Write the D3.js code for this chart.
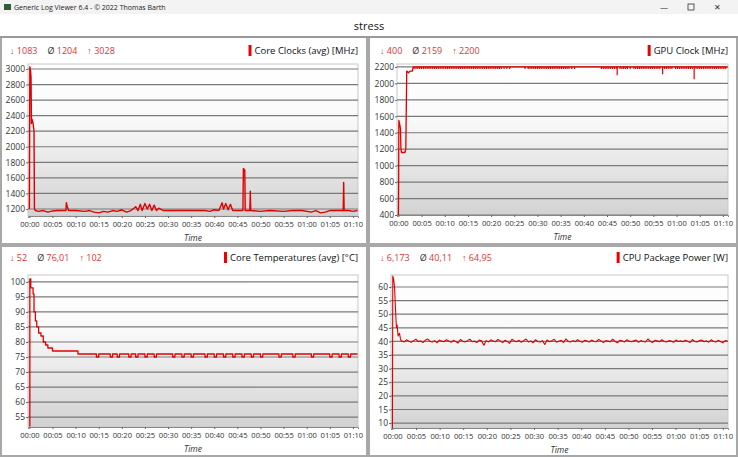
<!DOCTYPE html>
<html><head><meta charset="utf-8">
<script src="https://cdn.jsdelivr.net/npm/d3@7"></script>
<style>body{margin:0;background:#fff}svg{display:block;font-family:"Open Sans",sans-serif}</style>
</head><body><div id="chart"></div>
<script>
// time in minutes
const clockPts = [[0,1200],[0.1,3028],[0.25,2980],[0.35,2900],[0.45,2300],[0.6,2350],[0.8,2300],[1.0,2200],[1.1,1200],[1.3,1180],
  [2,1170],[3,1180],[4,1160],[5,1175],[6,1180],[7,1180],[7.9,1180],[8,1280],[8.2,1230],[8.5,1180],[10,1180],[12,1170],[13,1180],[14,1160],
  [15,1150],[16,1170],[17,1160],[18,1180],[19,1170],[20,1190],[21,1160],[22,1180],[23,1230],[23.5,1180],[24,1260],[24.4,1180],[25,1270],
  [25.5,1200],[26,1260],[26.5,1180],[27,1250],[27.5,1180],[28,1210],[29,1180],[30,1180],[35,1180],[38,1180],[39,1170],[40,1190],[41,1180],
  [41.7,1280],[42,1200],[42.5,1270],[43,1190],[43.5,1260],[44,1180],[45,1180],[46.2,1180],[46.3,1720],[46.6,1700],[46.7,1180],[47.7,1180],
  [47.8,1430],[47.9,1180],[50,1170],[52,1180],[55,1170],[57,1180],[59,1180],[61,1160],[62,1180],[63,1150],[64,1160],[65,1180],[67.9,1180],
  [68,1540],[68.1,1180],[69,1180],[70,1170],[71,1180]];
const gpuPts = [[0,400],[0.05,700],[0.1,1550],[0.3,1500],[0.45,1450],[0.55,1200],[0.7,1160],[1.4,1160],[1.6,1200],[1.8,2150],[2.2,2130],
  [2.5,2150],[3.0,2150],[3.2,2200],[71,2200]];
const gpuDipTimes = [3.4,3.8,4.2,4.6,5.0,5.4,5.8,6.2,6.6,7.0,7.4,7.8,8.2,8.6,9.0,9.4,9.8,10.2,10.6,11.0,11.4,11.8,12.2,12.6,13.0,13.4,
  13.8,14.2,14.6,15.0,15.4,15.8,16.2,16.6,17.0,17.4,17.8,18.2,18.6,19.0,19.4,19.8,20.2,20.6,21.0,21.4,21.8,22.2,22.8,23.4,24.0,
  27.3,28.0,28.4,28.8,29.2,29.6,30.0,30.4,30.8,31.2,31.6,32.0,32.4,32.8,33.2,33.6,34.0,34.4,34.8,35.2,35.6,36.0,36.4,36.8,37.4,38.0,
  43.8,44.2,44.6,45.0,45.4,45.8,46.2,46.6,47.0,47.8,48.2,48.6,49.0,49.4,50.0,50.8,51.2,51.6,52.0,52.4,52.8,53.2,53.6,54.0,54.4,
  54.8,55.2,55.6,56.0,56.4,57.4,57.8,58.2,58.6,59.0,59.8,60.2,60.6,61.0,61.4,61.8,62.2,62.6,63.0,63.4,64.2,64.6,65.0,65.4,65.8,
  66.2,66.6,67.0,67.4,67.8,68.2,68.6,69.0,69.4,69.8,70.2,70.6];
const gpuDeepDips = [[47.2,2100],[57.0,2110],[63.8,2050]];
const tempPts = [[0,52],[0.1,101],[0.3,98],[0.6,98],[0.8,96],[1,90],[1.3,87],[1.6,85],[2,83],[2.5,82],[3,80],[3.5,79],[4,78],[5,77],
  [10,77],[10.5,76],[14,76],[14.5,75],[15,76],[17,76],[17.5,75],[18,76],[19,75],[19.5,76],[21,76],[21.5,75],[22,76],[23,75],[23.5,76],
  [25,75],[25.5,76],[27,75],[27.5,76],[30,76],[31,75],[31.5,76],[33,75],[33.5,76],[35,75],[35.5,76],[37,76],[38,75],[38.5,76],[40,75],
  [40.5,76],[42,75],[42.5,76],[44,75],[44.5,76],[46,75],[46.5,76],[48,75],[48.5,76],[50,75],[50.5,76],[53,76],[54,75],[54.5,76],
  [57,75],[57.5,76],[60,76],[61,75],[61.5,76],[64,76],[65,75],[65.5,76],[67,75],[67.5,76],[69,75],[69.5,76],[71,76]];
const powerHead = [[0,8],[0.08,64],[0.25,63],[0.45,60],[0.65,52],[0.85,45],[1.0,46],[1.2,42],[1.5,43],[1.7,41],[1.9,40]];
const powerTail = [40.2,39.8,40.6,40.1,39.7,40.3,40.8,39.9,40.2,39.6,40.4,40.9,40.0,39.8,40.3,39.5,40.5,40.1,39.9,40.6,
  40.2,39.7,40.4,40.0,39.4,40.7,40.1,39.8,40.3,40.8,39.9,40.1,39.6,40.5,40.2,38.6,40.3,39.8,40.6,40.1,
  39.9,40.7,40.2,39.6,40.4,40.0,39.3,40.8,40.1,39.9,40.4,39.7,40.3,40.9,39.8,40.2,39.5,40.6,40.0,39.8,
  40.3,38.9,40.5,39.9,40.2,40.8,39.7,40.1,40.4,39.6,40.9,40.0,39.8,40.3,39.9,40.6,40.1,39.7,40.4,40.2,
  39.8,40.5,40.0,39.9,40.7,40.2,39.6,40.3,40.1,39.9,40.8,40.0,39.5,40.4,40.2,39.8,40.6,40.1,39.9,40.2,
  40.5,39.7,40.3,40.0,39.8,40.9,40.1,39.6,40.4,40.2,39.9,40.6,40.0,39.8,40.3,40.1,39.7,40.5,40.0,40.2,
  39.9,40.4,40.1,39.6,40.7,40.0,39.8,40.3,40.5,39.9,40.2,39.7,40.6,40.1,39.8,40.4,40.0,39.5,40.3,40.1];
const timeTicks = d3.range(0, 71, 5);
const panelNames = ["Core Clocks (avg) [MHz]","GPU Clock [MHz]","Core Temperatures (avg) [°C]","CPU Package Power [W]"];
const panelStats = [["1083","1204","3028"],["400","2159","2200"],["52","76,01","102"],["6,173","40,11","64,95"]];

const W = 738, H = 457;
const svg = d3.select("#chart").append("svg").attr("width", W).attr("height", H);
const defs = svg.append("defs");
const grad = defs.append("linearGradient").attr("id","bg").attr("x1",0).attr("y1",0).attr("x2",0).attr("y2",1);
grad.append("stop").attr("offset","0").attr("stop-color","#ffffff");
grad.append("stop").attr("offset","0.35").attr("stop-color","#fafafa");
grad.append("stop").attr("offset","1").attr("stop-color","#d2d2d2");

// window chrome
svg.append("rect").attr("width",W).attr("height",H).attr("fill","#fff");
svg.append("rect").attr("width",W).attr("height",14).attr("fill","#f3f3f3");
svg.append("rect").attr("x",4).attr("y",4).attr("width",7).attr("height",6).attr("fill","#2e5e3a");
svg.append("text").attr("x",14).attr("y",10).attr("font-size",7).attr("fill","#222").text("Generic Log Viewer 6.4 - © 2022 Thomas Barth");
svg.append("text").attr("x",660).attr("y",10).attr("font-size",8).attr("fill","#333").text("—");
svg.append("rect").attr("x",688).attr("y",4).attr("width",6).attr("height",6).attr("fill","none").attr("stroke","#333").attr("stroke-width",0.8);
svg.append("text").attr("x",714).attr("y",10).attr("font-size",8).attr("fill","#333").text("✕");
svg.append("text").attr("x",W/2).attr("y",30).attr("text-anchor","middle").attr("font-size",11).attr("fill","#111").text("stress");
svg.append("line").attr("x1",0).attr("x2",W).attr("y1",37).attr("y2",37).attr("stroke","#333").attr("stroke-width",1.2);
// panel separators
svg.append("rect").attr("x",366).attr("y",38).attr("width",4).attr("height",H-38).attr("fill","#a8a8a8");
svg.append("rect").attr("x",0).attr("y",243).attr("width",W).attr("height",4).attr("fill","#a8a8a8");
svg.append("rect").attr("x",0).attr("y",38).attr("width",2).attr("height",H-38).attr("fill","#a8a8a8");
svg.append("rect").attr("x",W-2).attr("y",38).attr("width",2).attr("height",H-38).attr("fill","#a8a8a8");
svg.append("rect").attr("x",0).attr("y",H-2).attr("width",W).attr("height",2).attr("fill","#a8a8a8");

const powerPts = powerHead.concat(powerTail.map((v, i) => [2 + i * (69 / (powerTail.length - 1)), v]));
const gpuDips = gpuDipTimes.map(t => [t, 2175]).concat(gpuDeepDips);

const panels = [
  {ox:0, oy:40, left:28, right:358, top:64, bottom:216, y:[1110,3064], ticks:d3.range(1200,3001,200), pts:clockPts, curve:d3.curveLinear, w:1.4},
  {ox:370, oy:40, left:397, right:728, top:64, bottom:215, y:[400,2236], ticks:d3.range(400,2201,200), pts:gpuPts, dips:gpuDips, curve:d3.curveLinear, w:1.3},
  {ox:0, oy:247, left:28, right:358, top:275, bottom:427, y:[51.7,102.3], ticks:d3.range(55,101,5), pts:tempPts, curve:d3.curveStepAfter, w:1.3},
  {ox:370, oy:247, left:391, right:728, top:275, bottom:428, y:[8.2,64.4], ticks:d3.range(10,61,5), pts:powerPts, curve:d3.curveLinear, w:1.1}
];

panels.forEach((p, i) => {
  const g = svg.append("g");
  const x = d3.scaleLinear().domain([-0.3, 71.1]).range([p.left, p.right]);
  const y = d3.scaleLinear().domain(p.y).range([p.bottom, p.top]);
  // stats
  const st = g.append("text").attr("x", p.ox + 10).attr("y", p.oy + 14).attr("font-size", 9);
  st.append("tspan").attr("fill","#d33").text("↓ " + panelStats[i][0]);
  st.append("tspan").attr("dx",10).attr("fill","#333").text("Ø ");
  st.append("tspan").attr("fill","#d33").text(panelStats[i][1]);
  st.append("tspan").attr("dx",10).attr("fill","#d33").text("↑ " + panelStats[i][2]);
  const lt = g.append("text").attr("x", p.right).attr("y", p.oy + 14).attr("text-anchor","end")
    .attr("font-size",9.5).attr("fill","#111").text(panelNames[i]);
  const lw = lt.node().getComputedTextLength();
  g.append("rect").attr("x", p.right - lw - 6).attr("y", p.oy + 5).attr("width",3).attr("height",11).attr("fill","#e00");
  // plot
  g.append("rect").attr("x",p.left).attr("y",p.top).attr("width",p.right-p.left).attr("height",p.bottom-p.top)
    .attr("fill","url(#bg)").attr("stroke","#c8c8c8");
  g.selectAll(".grid").data(p.ticks).join("line")
    .attr("x1",p.left).attr("x2",p.right).attr("y1",d=>y(d)).attr("y2",d=>y(d))
    .attr("stroke","#7a7a7a").attr("stroke-width",1.2);
  g.append("g").attr("transform",`translate(${p.left},0)`)
    .call(d3.axisLeft(y).tickValues(p.ticks).tickSize(2).tickPadding(1).tickFormat(d3.format("d")))
    .call(a => { a.select(".domain").remove(); a.selectAll("text").attr("font-size",8.5).attr("fill","#333").attr("font-family","Open Sans"); a.selectAll("line").attr("stroke","#666"); });
  g.append("g").attr("transform",`translate(0,${p.bottom})`)
    .call(d3.axisBottom(x).tickValues(timeTicks).tickSize(2).tickPadding(4)
      .tickFormat(d => d3.format("02")(Math.floor(d/60)) + ":" + d3.format("02")(d%60)))
    .call(a => { a.select(".domain").attr("stroke","#888"); a.selectAll("text").attr("font-size",7.6).attr("fill","#333").attr("font-family","Open Sans"); a.selectAll("line").attr("stroke","#666"); });
  g.append("text").attr("x",(p.left+p.right)/2).attr("y",p.bottom+25).attr("text-anchor","middle")
    .attr("font-size",8.5).attr("font-style","italic").attr("fill","#333").text("Time");
  const clip = "clip" + i;
  defs.append("clipPath").attr("id",clip).append("rect").attr("x",p.left).attr("y",p.top-2).attr("width",p.right-p.left).attr("height",p.bottom-p.top+2);
  const line = d3.line().x(d=>x(d[0])).y(d=>y(d[1])).curve(p.curve);
  g.append("path").datum(p.pts).attr("clip-path",`url(#${clip})`).attr("d",line)
    .attr("fill","none").attr("stroke","#e00000").attr("stroke-width",p.w).attr("stroke-linejoin","round");
  if (p.dips) {
    g.selectAll(".dip").data(p.dips).join("line").attr("class","dip")
      .attr("x1",d=>x(d[0])).attr("x2",d=>x(d[0])).attr("y1",y(2200)).attr("y2",d=>y(d[1]))
      .attr("stroke","#e00000").attr("stroke-width",1.2);
  }
});
</script></body></html>
